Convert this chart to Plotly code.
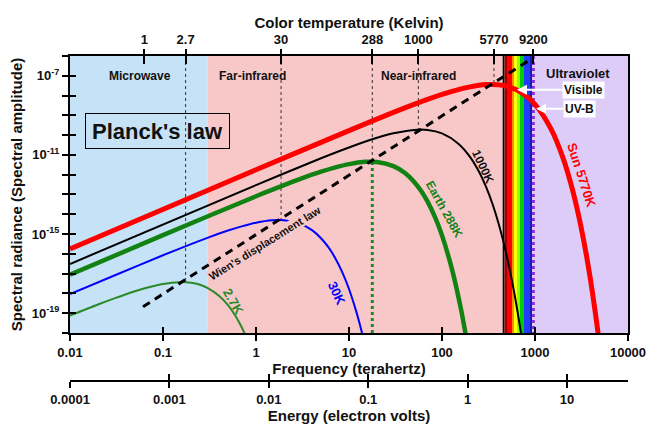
import plotly.graph_objects as go

# ---------------- data ----------------
# frequency in THz, spectral radiance in W sr^-1 m^-2 Hz^-1
f_2k7 = [0.01, 0.02, 0.03, 0.05, 0.07, 0.1, 0.15, 0.2, 0.25, 0.3, 0.4, 0.5, 0.6, 0.7, 0.8]
b_2k7 = [7.59e-20, 2.77e-19, 5.65e-19, 1.29e-18, 2.05e-18, 3.01e-18, 3.72e-18, 3.47e-18,
         2.75e-18, 1.93e-18, 7.71e-19, 2.55e-19, 7.45e-20, 2.00e-20, 5.05e-21]

f_30k = [0.01, 0.03, 0.1, 0.3, 0.5, 0.7, 1, 1.5, 2, 3, 4, 5, 6, 7, 8.5, 10, 12, 13, 14]
b_30k = [9.14e-19, 8.09e-18, 8.51e-17, 6.46e-16, 1.51e-15, 2.45e-15, 3.73e-15, 4.97e-15,
         5.02e-15, 3.31e-15, 1.57e-15, 6.19e-16, 2.17e-16, 6.93e-17, 1.13e-17, 1.67e-18,
         1.17e-19, 3.01e-20, 7.60e-21]

f_288k = [0.01, 0.1, 1, 2, 3, 5, 7, 10, 15, 20, 30, 40, 50, 60, 70, 85, 100, 130, 160, 175, 190]
b_288k = [8.85e-18, 8.79e-16, 8.15e-14, 2.99e-13, 6.14e-13, 1.42e-12, 2.29e-12, 3.44e-12,
          4.46e-12, 4.38e-12, 2.70e-12, 1.21e-12, 4.45e-13, 1.45e-13, 4.36e-14, 6.40e-15,
          8.55e-16, 1.27e-17, 1.60e-19, 1.71e-20, 1.80e-21]

f_1000k = [0.01, 1, 5, 10, 20, 30, 50, 70, 100, 150, 200, 250, 300, 350, 400, 450, 500,
           550, 600, 650, 700, 720]
b_1000k = [3.08e-17, 3.00e-13, 6.81e-12, 2.39e-11, 7.33e-11, 1.24e-10, 1.84e-10, 1.82e-10,
           1.22e-10, 3.72e-11, 8.02e-12, 1.42e-12, 2.22e-13, 3.21e-14, 4.35e-15, 5.62e-16,
           7.00e-17, 8.47e-18, 9.98e-19, 1.15e-19, 1.30e-20, 5.43e-21]

f_sun = [0.01, 1, 10, 25, 50, 100, 150, 200, 300, 400, 500, 700, 1000, 1500, 2000, 2500,
         3000, 3500, 4000, 4500, 4750, 5000]
b_sun = [1.77e-16, 1.77e-12, 1.70e-10, 9.98e-10, 3.58e-09, 1.14e-08, 2.00e-08, 2.76e-08,
         3.58e-08, 3.52e-08, 2.93e-08, 1.50e-08, 3.61e-09, 1.90e-10, 7.05e-12, 2.15e-13,
         5.81e-15, 1.44e-16, 3.37e-18, 7.48e-20, 1.10e-20, 1.61e-21]

f_wien = [0.061, 884]
b_wien = [2.13e-19, 6.5e-07]

# colour temperature axis (top): tick labels and their frequency positions
temp_labels = ["1", "2.7", "30", "288", "1000", "5770", "9200"]
temp_freq = [0.063, 0.175, 1.86, 17.8, 55.7, 362, 960]
# peak radiance where the thin dotted guide lines stop (None = no guide)
temp_peak = [None, 3.7e-18, 5.0e-15, 4.45e-12, 1.84e-10, 3.6e-08, None]

freq_ticks = [0.01, 0.1, 1, 10, 100, 1000, 10000]
freq_labels = ["0.01", "0.1", "1", "10", "100", "1000", "10000"]
energy_ticks = [0.0001, 0.001, 0.01, 0.1, 1, 10]
energy_labels = ["0.0001", "0.001", "0.01", "0.1", "1", "10"]
y_exps = list(range(-20, -5))
y_label_exps = [-7, -11, -15, -19]

# spectral bands (THz)
band_start = [0.01, 0.3, 449, 470, 500, 566, 595, 640, 690, 762, 884, 929]
band_end = [0.3, 449, 470, 500, 566, 595, 640, 690, 762, 884, 929, 10000]
band_color = ["#c6e2f6", "#f8c8c9", "#000000", "#a00000", "#ff0000", "#ff8c00", "#ffff00",
              "#8cff00", "#00cc00", "#1f3cff", "#1a1aa8", "#ddccf7"]

FONT = "Liberation Sans, Arial, sans-serif"

fig = go.Figure()

# guide lines from the top axis down to the curve peaks
for fq, pk in zip(temp_freq, temp_peak):
    if pk is not None:
        fig.add_trace(go.Scatter(x=[fq, fq], y=[1e-6, pk], mode="lines",
                                 line=dict(color="#333333", width=1, dash="dot"),
                                 hoverinfo="skip"))
# Earth peak: green dotted down to the bottom
fig.add_trace(go.Scatter(x=[temp_freq[3], temp_freq[3]], y=[temp_peak[3], 1e-20], mode="lines",
                         line=dict(color="#1a8a2a", width=3, dash="dot"), hoverinfo="skip"))
# 9200 K: purple dotted full height
fig.add_trace(go.Scatter(x=[temp_freq[6], temp_freq[6]], y=[1e-6, 1e-20], mode="lines",
                         line=dict(color="#8a2be2", width=3, dash="dot"), hoverinfo="skip"))

curves = [
    (f_2k7, b_2k7, "#2a8a2a", 2),
    (f_30k, b_30k, "#0000ff", 2),
    (f_288k, b_288k, "#128212", 4.5),
    (f_1000k, b_1000k, "#000000", 2),
    (f_sun, b_sun, "#ff0000", 5),
]
for fx, by, col, w in curves:
    fig.add_trace(go.Scatter(x=fx, y=by, mode="lines",
                             line=dict(color=col, width=w, shape="spline", smoothing=0.8),
                             hoverinfo="skip"))

fig.add_trace(go.Scatter(x=f_wien, y=b_wien, mode="lines",
                         line=dict(color="black", width=3, dash="8px,6px"), hoverinfo="skip"))

# invisible traces so that the extra axes are drawn
for xa, ya, yv in [("x2", "y", 1e-10), ("x4", "y", 1e-10), ("x5", "y", 1e-10),
                   ("x", "y2", 1e-10), ("x3", "y3", 0.5), ("x6", "y3", 0.5)]:
    fig.add_trace(go.Scatter(x=[1], y=[yv], xaxis=xa, yaxis=ya, mode="markers",
                             marker=dict(opacity=0, size=1), hoverinfo="skip"))

# background bands
for s, e, c in zip(band_start, band_end, band_color):
    fig.add_shape(type="rect", xref="x", yref="y domain", x0=s, x1=e, y0=0, y1=1,
                  fillcolor=c, line=dict(width=0), layer="below")

bold = dict(family=FONT, size=13, color="#111111", weight="bold")
tick_common = dict(tickcolor="black", tickwidth=1.5, showgrid=False, zeroline=False,
                   automargin=False)
title_font = dict(family=FONT, size=15, color="#111111", weight="bold")

y_text = [("10<sup>%d</sup>" % e) if e in y_label_exps else "" for e in y_exps]
y_vals = [10.0 ** e for e in y_exps]

DOM_Y0 = 0.2086
E_POS = 0.0743
fig.update_layout(
    width=662, height=426,
    margin=dict(l=70, r=34, t=56, b=20),
    paper_bgcolor="white", plot_bgcolor="rgba(0,0,0,0)", showlegend=False,
    font=dict(family=FONT, size=12, color="#111111"),
    xaxis=dict(type="log", range=[-2, 4], domain=[0, 1], anchor="y", side="bottom",
               tickvals=freq_ticks, ticktext=freq_labels, ticks="outside", ticklen=6,
               showline=True, linecolor="black", linewidth=2, tickfont=bold,
               title=dict(text="Frequency (terahertz)", standoff=1, font=title_font),
               **tick_common),
    xaxis4=dict(type="log", range=[-2, 4], overlaying="x", anchor="y", side="bottom",
                tickvals=freq_ticks, ticks="inside", ticklen=6, showticklabels=False,
                showline=False, **tick_common),
    xaxis2=dict(type="log", range=[-2, 4], overlaying="x", anchor="y", side="top",
                tickvals=temp_freq, ticktext=temp_labels, ticks="outside", ticklen=5,
                showline=True, linecolor="black", linewidth=2, tickfont=bold,
                title=dict(text="Color temperature (Kelvin)", standoff=0, font=title_font),
                **tick_common),
    xaxis5=dict(type="log", range=[-2, 4], overlaying="x", anchor="y", side="top",
                tickvals=temp_freq, ticks="inside", ticklen=8, showticklabels=False,
                showline=False, **tick_common),
    xaxis3=dict(type="log", range=[-4, 1.614], domain=[0, 1], anchor="y3",
                side="bottom", tickvals=energy_ticks, ticktext=energy_labels,
                ticks="outside", ticklen=6, showline=True, linecolor="black", linewidth=2,
                tickfont=bold,
                title=dict(text="Energy (electron volts)", standoff=2, font=title_font),
                **tick_common),
    xaxis6=dict(type="log", range=[-4, 1.614], overlaying="x3", anchor="y3",
                side="bottom", tickvals=energy_ticks, ticks="inside", ticklen=6,
                showticklabels=False, showline=False, **tick_common),
    yaxis3=dict(domain=[E_POS - 0.001, E_POS], anchor="x3", range=[0, 1], visible=False,
                showgrid=False, zeroline=False, automargin=False),
    yaxis=dict(type="log", range=[-20, -6], domain=[DOM_Y0, 1], anchor="x",
               tickvals=y_vals, ticktext=y_text, ticks="outside", ticklen=6,
               showline=True, linecolor="black", linewidth=2, mirror=True,
               tickfont=bold,
               title=dict(text="Spectral radiance (Spectral amplitude)", standoff=6,
                          font=title_font),
               **tick_common),
    yaxis2=dict(type="log", range=[-20, -6], overlaying="y", anchor="x", side="left",
                tickvals=y_vals, ticks="inside", ticklen=6, showticklabels=False,
                showline=False, **tick_common),
)

def lab(text, lx, ly, size=12, color="#111111", angle=0, **kw):
    fig.add_annotation(x=lx, y=ly, xref="x", yref="y", text=text, showarrow=False,
                       textangle=angle,
                       font=dict(family=FONT, size=size, color=color, weight="bold"), **kw)

lab("Microwave", -1.247, -7.01)
lab("Far-infrared", -0.043, -7.01)
lab("Near-infrared", 1.742, -7.01)
lab("Ultraviolet", 3.462, -6.86, size=13)
lab("Planck's law", -1.054, -9.79, size=22, bordercolor="black", borderwidth=1,
    width=141, height=32)
lab("2.7K", -0.247, -18.43, size=13, color="#2a8a2a", angle=60)
lab("30K", 0.871, -17.98, size=13, color="#0000ff", angle=65)
lab("Wien's displacement law", 0.097, -15.45, size=11, angle=-32,
    bgcolor="#f8c8c9", borderpad=0)
lab("Earth 288K", 2.022, -13.73, size=12, color="#128212", angle=61)
lab("1000K", 2.441, -11.61, size=12, angle=65)
lab("Sun 5770K", 3.495, -12.01, size=13, color="#ff0000", angle=72)

# Visible / UV-B pointers
fig.add_annotation(x=2.806, y=-7.70, xref="x", yref="y", text="Visible", showarrow=True,
                   ax=67, ay=0, arrowcolor="white", arrowwidth=2, arrowhead=2, arrowsize=1,
                   bgcolor="white", font=dict(family=FONT, size=12, color="#111111", weight="bold"))
fig.add_annotation(x=3.011, y=-8.66, xref="x", yref="y", text="UV-B", showarrow=True,
                   ax=43, ay=0, arrowcolor="white", arrowwidth=2, arrowhead=2, arrowsize=1,
                   bgcolor="white", font=dict(family=FONT, size=12, color="#111111", weight="bold"))

fig.write_html("out.html")
